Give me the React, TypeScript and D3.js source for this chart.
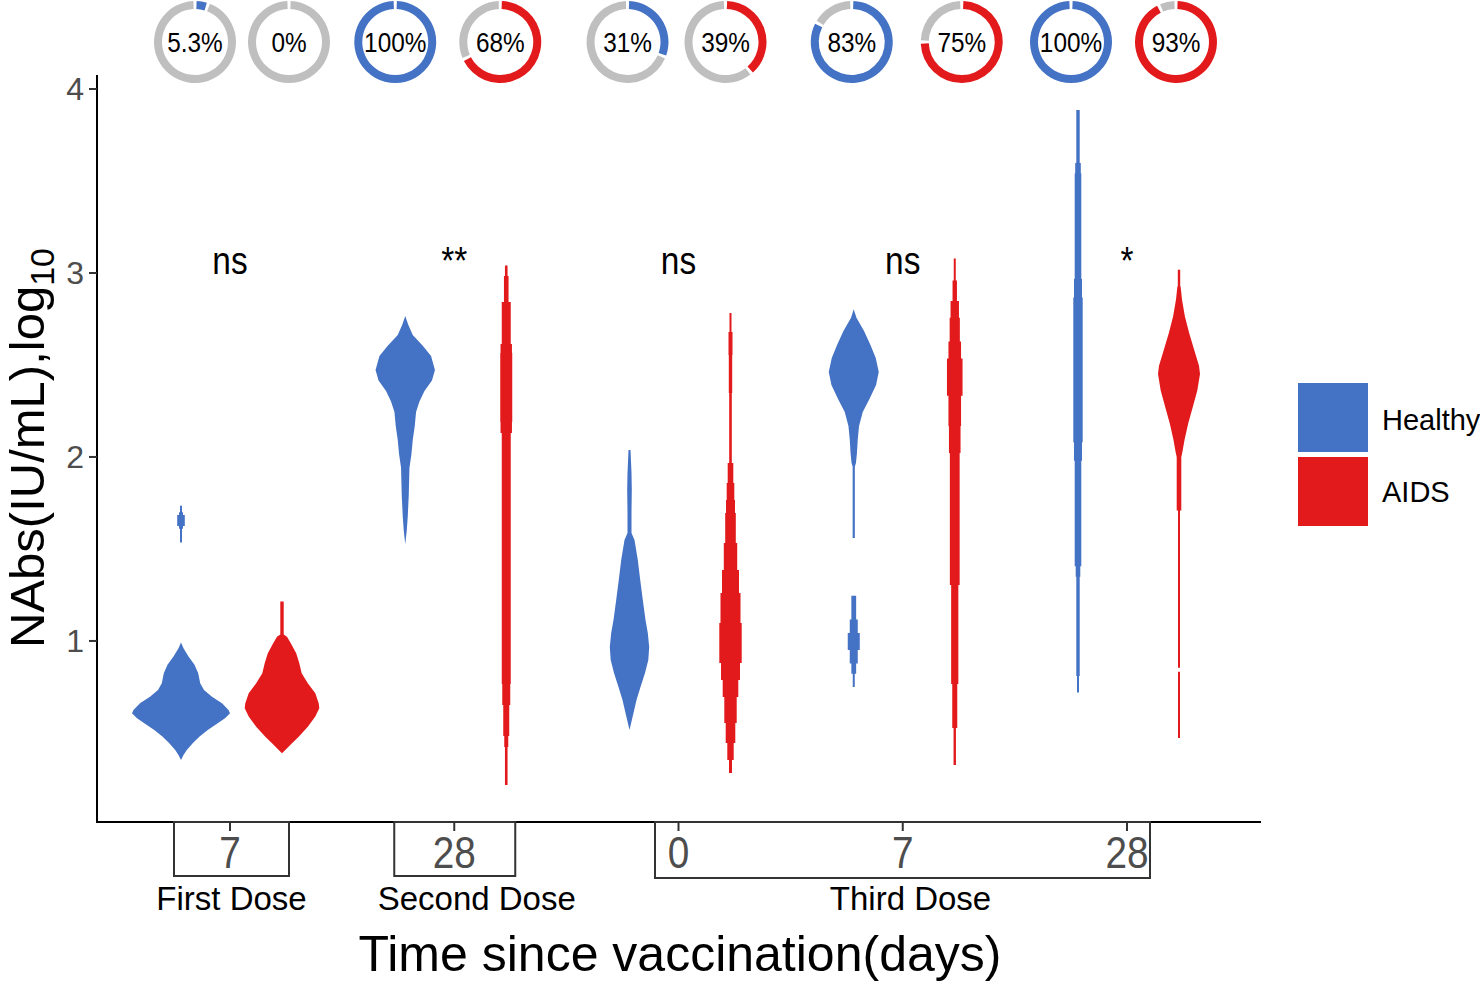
import React from 'react';
import * as d3 from 'd3';

type Pt = [number, number];          // [log10 NAbs, density]
type Seg = [number, number, number]; // [top value, bottom value, density]

// ---------------- data ----------------
const groups = ['First-7', 'Second-28', 'Third-0', 'Third-7', 'Third-28'];
const tickLabels = ['7', '28', '0', '7', '28'];
const doseNames = ['First Dose', 'Second Dose', 'Third Dose'];
const doseFirstGroup = ['First-7', 'Second-28', 'Third-0'];
const doseLastGroup = ['First-7', 'Second-28', 'Third-28'];
const sigLabels = ['ns', '**', 'ns', 'ns', '*'];
const statuses = ['Healthy', 'AIDS'];
const healthyPositive = [5.3, 100, 31, 83, 100];
const aidsPositive = [0, 68, 39, 75, 93];
const yTicks = [1, 2, 3, 4];

// violin density profiles
const h1Blob: Seg[] = [
  [1.735, 1.7, 1], [1.7, 1.685, 2], [1.685, 1.625, 3.8], [1.625, 1.61, 2], [1.61, 1.535, 1],
];
const h1Main: Pt[] = [
  [0.991, 0], [0.96, 2.5], [0.915, 7.5], [0.87, 13.5], [0.824, 17.2], [0.77, 19.2], [0.734, 23],
  [0.697, 31], [0.661, 41], [0.625, 47.5], [0.607, 49], [0.58, 44], [0.553, 36.7], [0.516, 26.7],
  [0.48, 18.3], [0.444, 11.7], [0.408, 5.8], [0.38, 2.5], [0.353, 0],
];
const a1Main: Pt[] = [
  [1.214, 1.7], [1.035, 1.7], [1.023, 5], [0.987, 8.8], [0.933, 14.2], [0.879, 17.3], [0.824, 19.7],
  [0.77, 25.8], [0.716, 33.3], [0.661, 36.7], [0.634, 37.3], [0.589, 33.3], [0.534, 25.8],
  [0.48, 16.7], [0.444, 10], [0.408, 3.3], [0.39, 0],
];
const h2Main: Pt[] = [
  [2.766, 0], [2.719, 3], [2.663, 7.5], [2.605, 17.5], [2.549, 25.8], [2.473, 29.7], [2.416, 26.7],
  [2.359, 19.2], [2.302, 14.2], [2.245, 10.8], [2.168, 9.5], [2.092, 7.5], [2.016, 6.2],
  [1.942, 4.2], [1.79, 3.5], [1.677, 2.5], [1.6, 1.5], [1.525, 0],
];
const a2Steps: Seg[] = [
  [3.041, 2.984, 1.3], [2.984, 2.842, 2.3], [2.842, 2.614, 4.5], [2.614, 2.565, 5.7],
  [2.565, 2.19, 6], [2.19, 2.13, 5.7], [2.13, 0.766, 4.5], [0.766, 0.652, 4],
  [0.652, 0.484, 3], [0.484, 0.424, 2], [0.424, 0.217, 1.3],
];
const h3Main: Pt[] = [
  [2.038, 1], [1.913, 2], [1.82, 2.3], [1.7, 2], [1.587, 2], [1.549, 5], [1.44, 8.3], [1.332, 10.7],
  [1.223, 13.3], [1.114, 16], [1.043, 18.3], [0.967, 19.7], [0.897, 18.8], [0.826, 15.5],
  [0.75, 11], [0.679, 7], [0.609, 4], [0.516, 0],
];
const a3Steps: Seg[] = [
  [2.783, 2.679, 1], [2.679, 2.554, 2], [2.554, 2.348, 1.7], [2.348, 1.967, 1.3],
  [1.967, 1.859, 2.8], [1.859, 1.766, 3.8], [1.766, 1.696, 4.5], [1.696, 1.533, 5.3],
  [1.533, 1.386, 6.7], [1.386, 1.261, 8.5], [1.261, 1.098, 10], [1.098, 0.88, 11.2],
  [0.88, 0.788, 9.5], [0.788, 0.696, 7.8], [0.696, 0.554, 6.2], [0.554, 0.446, 4.8],
  [0.446, 0.353, 3.2], [0.353, 0.283, 1.5],
];
const h4Main: Pt[] = [
  [2.803, 0], [2.757, 2.7], [2.685, 10.3], [2.609, 16.7], [2.538, 22], [2.462, 25], [2.391, 22.3],
  [2.315, 15.7], [2.245, 9], [2.168, 5.3], [2.095, 4], [2.022, 3.2], [1.967, 2.2], [1.948, 1.1],
  [1.56, 1.1],
];
const h4Blob: Seg[] = [
  [1.246, 1.117, 2.4], [1.117, 1.043, 4], [1.043, 0.951, 6], [0.951, 0.877, 4],
  [0.877, 0.822, 2.4], [0.822, 0.75, 1],
];
const a4Steps: Seg[] = [
  [3.079, 2.959, 1], [2.959, 2.848, 2.2], [2.848, 2.757, 4.2], [2.757, 2.628, 5.1],
  [2.628, 2.535, 6.3], [2.535, 2.333, 7.8], [2.333, 2.168, 6.3], [2.168, 2.022, 5.8],
  [2.022, 1.304, 4.9], [1.304, 0.766, 3.6], [0.766, 0.527, 2.5], [0.527, 0.326, 1.2],
];
const h5Steps: Seg[] = [
  [3.886, 3.598, 1.7], [3.598, 3.542, 2.8], [3.542, 2.968, 3.3], [2.968, 2.867, 4],
  [2.867, 2.08, 4.7], [2.08, 1.979, 4], [1.979, 1.406, 3.3], [1.406, 1.349, 2.3],
  [1.349, 0.81, 1.7], [0.81, 0.72, 1],
];
const a5Main: Pt[] = [
  [3.018, 1.2], [2.93, 1.2], [2.923, 1.7], [2.856, 3], [2.766, 5.8], [2.676, 10], [2.586, 15],
  [2.496, 20], [2.451, 21], [2.361, 18.3], [2.272, 13.8], [2.182, 9.2], [2.092, 5.5],
  [2.024, 3.3], [2.0, 2.3],
];
const a5Steps: Seg[] = [
  [2.0, 1.709, 2.3], [1.709, 0.855, 1], [0.833, 0.473, 1],
];

const violinGroup = ['First-7', 'First-7', 'Second-28', 'Second-28', 'Third-0', 'Third-0', 'Third-7', 'Third-7', 'Third-28', 'Third-28'];
const violinStatus = ['Healthy', 'AIDS', 'Healthy', 'AIDS', 'Healthy', 'AIDS', 'Healthy', 'AIDS', 'Healthy', 'AIDS'];
const violinSmooth: Pt[][][] = [[h1Main], [a1Main], [h2Main], [], [h3Main], [], [h4Main], [], [], [a5Main]];
const violinSteps: Seg[][][] = [[h1Blob], [], [], [a2Steps], [], [a3Steps], [h4Blob], [a4Steps], [h5Steps], [a5Steps]];

// ---------------- layout / style ----------------
const W = 1480;
const H = 984;
const BLUE = '#4472C4';
const RED = '#E31A1C';
const GRAY = '#BFBFBF';
const FONT = '"Liberation Sans", Arial, Helvetica, sans-serif';
const plotLeft = 97;
const plotRight = 1261;
const plotTop = 75;
const plotBottom = 822;
const donutY = 42;
const donutNudgeHealthy = [-35, -59, -51, -51, -56];
const donutNudgeAids = [59, 46, 47, 59, 49];
const boxPad: [number, number][] = [[56, 59], [60, 61], [23.5, 23]];
const boxBottom = [876, 876, 878];
const doseLabelNudge = [0, 22, 8];

const x = d3.scalePoint<string>().domain(groups).range([230, 1127]);
const y = d3.scaleLinear().domain([0.016, 4.076]).range([plotBottom, plotTop]);
const wScale = d3.scaleLinear().domain([0, 50]).range([0, 50]);
const dodge = d3.scaleOrdinal<string, number>().domain(statuses).range([-49, 52]);
const color = d3.scaleOrdinal<string, string>().domain(statuses).range([BLUE, RED]);

function stepPoints(segs: Seg[]): (Pt | null)[] {
  const out: (Pt | null)[] = [];
  let prevBottom: number | null = null;
  segs.forEach((s) => {
    if (prevBottom !== null && Math.abs(prevBottom - s[0]) > 1e-9) out.push(null);
    out.push([s[0], s[2]]);
    out.push([s[1], s[2]]);
    prevBottom = s[1];
  });
  return out;
}

function violinPath(cx: number, pts: (Pt | null)[]): string {
  const area = d3
    .area<Pt | null>()
    .defined((d) => d !== null)
    .y((d) => y((d as Pt)[0]))
    .x0((d) => cx - wScale((d as Pt)[1]))
    .x1((d) => cx + wScale((d as Pt)[1]))
    .curve(d3.curveLinear);
  return area(pts) || '';
}

const arcGen = d3.arc<{ startAngle: number; endAngle: number }>().innerRadius(33).outerRadius(41);
const GAP = 0.08;

function donutArcs(pct: number, fill: string) {
  const a = (pct / 100) * 2 * Math.PI;
  const parts: { s: number; e: number; fill: string }[] = [];
  if (pct > 0) parts.push({ s: 0, e: a, fill });
  if (pct < 100) parts.push({ s: a, e: 2 * Math.PI, fill: GRAY });
  return parts.map((p) => ({
    d: arcGen({ startAngle: p.s + GAP / 2, endAngle: p.e - GAP / 2 }) || '',
    fill: p.fill,
  }));
}

export default function App() {
  const donuts: { cx: number; pct: number; fill: string }[] = [];
  groups.forEach((g, i) => {
    donuts.push({ cx: (x(g) as number) + donutNudgeHealthy[i], pct: healthyPositive[i], fill: BLUE });
    donuts.push({ cx: (x(g) as number) + donutNudgeAids[i], pct: aidsPositive[i], fill: RED });
  });

  return (
    <div style={{ position: 'absolute', left: 0, top: 0, width: W, height: H, background: '#fff' }}>
      <svg width={W} height={H} viewBox={`0 0 ${W} ${H}`} style={{ display: 'block', fontFamily: FONT }}>
        <rect x={0} y={0} width={W} height={H} fill="#fff" />

        {/* donuts */}
        {donuts.map((dn, i) => (
          <g key={`dn${i}`} transform={`translate(${dn.cx},${donutY})`}>
            {donutArcs(dn.pct, dn.fill).map((a, j) => (
              <path key={j} d={a.d} fill={a.fill} />
            ))}
            <text
              transform="translate(0,10) scale(0.87,1)"
              textAnchor="middle"
              fontSize={28}
              fill="#000"
            >
              {`${dn.pct}%`}
            </text>
          </g>
        ))}

        {/* violins */}
        {violinGroup.map((g, i) => {
          const cx = (x(g) as number) + dodge(violinStatus[i]);
          const fill = color(violinStatus[i]);
          return (
            <g key={`v${i}`}>
              {violinSmooth[i].map((pts, j) => (
                <path key={`s${j}`} d={violinPath(cx, pts)} fill={fill} />
              ))}
              {violinSteps[i].map((segs, j) => (
                <path key={`t${j}`} d={violinPath(cx, stepPoints(segs))} fill={fill} />
              ))}
            </g>
          );
        })}

        {/* significance */}
        {groups.map((g, i) => (
          <text
            key={`sig${i}`}
            transform={`translate(${x(g)},274) scale(0.88,1)`}
            textAnchor="middle"
            fontSize={38}
            fill="#000"
          >
            {sigLabels[i]}
          </text>
        ))}

        {/* y axis */}
        <line x1={plotLeft} x2={plotLeft} y1={plotTop} y2={plotBottom + 1} stroke="#000" strokeWidth={2} />
        {yTicks.map((t) => (
          <g key={`yt${t}`}>
            <line x1={plotLeft - 8} x2={plotLeft} y1={y(t)} y2={y(t)} stroke="#333" strokeWidth={2} />
            <text x={plotLeft - 13} y={y(t) + 11.5} textAnchor="end" fontSize={32} fill="#4D4D4D">
              {t}
            </text>
          </g>
        ))}

        {/* x axis */}
        <line x1={plotLeft - 1} x2={plotRight} y1={plotBottom} y2={plotBottom} stroke="#000" strokeWidth={2} />
        {groups.map((g, i) => (
          <g key={`xt${i}`}>
            <line x1={x(g)} x2={x(g)} y1={plotBottom} y2={plotBottom + 9} stroke="#333" strokeWidth={2} />
            <text
              transform={`translate(${x(g)},868) scale(0.88,1)`}
              textAnchor="middle"
              fontSize={44}
              fill="#4D4D4D"
            >
              {tickLabels[i]}
            </text>
          </g>
        ))}

        {/* dose boxes */}
        {doseNames.map((name, i) => {
          const left = (x(doseFirstGroup[i]) as number) - boxPad[i][0];
          const right = (x(doseLastGroup[i]) as number) + boxPad[i][1];
          return (
            <g key={`dose${i}`}>
              <rect
                x={left}
                y={plotBottom}
                width={right - left}
                height={boxBottom[i] - plotBottom}
                fill="none"
                stroke="#333"
                strokeWidth={2}
              />
              <text x={(left + right) / 2 + doseLabelNudge[i]} y={910} textAnchor="middle" fontSize={33} fill="#000">
                {name}
              </text>
            </g>
          );
        })}

        {/* axis titles */}
        <text x={680} y={971} textAnchor="middle" fontSize={50} fill="#000">
          Time since vaccination(days)
        </text>
        <text transform="translate(44,448) rotate(-90)" textAnchor="middle" fontSize={49} fill="#000">
          <tspan>NAbs(IU/mL),log</tspan>
          <tspan fontSize={34} dy={10}>10</tspan>
        </text>

        {/* legend */}
        {statuses.map((s, i) => (
          <g key={`lg${i}`}>
            <rect x={1298} y={383 + i * 74} width={70} height={69} fill={color(s)} />
            <text x={1382} y={430 + i * 72} fontSize={29} fill="#000">
              {s}
            </text>
          </g>
        ))}
      </svg>
    </div>
  );
}
